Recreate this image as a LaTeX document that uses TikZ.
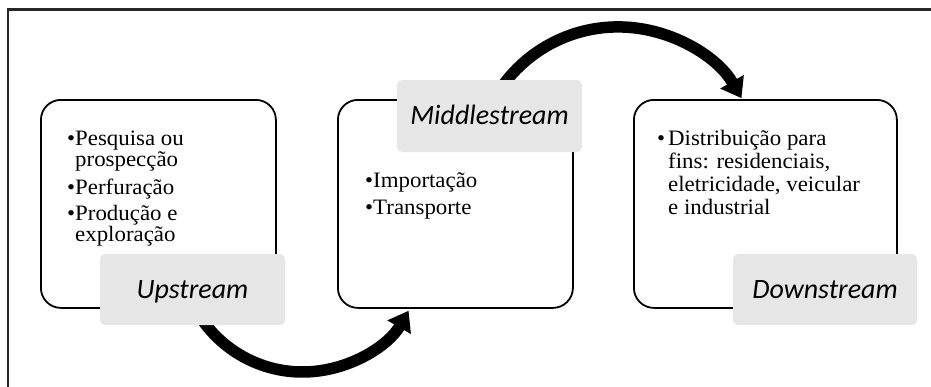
\documentclass[tikz,border=0pt]{standalone}
\usepackage{fontspec}
\setmainfont[FakeStretch=1.04]{Liberation Serif}
\newfontfamily\lblfont{Carlito}
\usetikzlibrary{arrows.meta}
\definecolor{lblgray}{HTML}{E6E6E6}
\definecolor{framegray}{HTML}{262626}
\begin{document}
\begin{tikzpicture}[x=1pt,y=-1pt,
  stage/.style={draw=black, line width=1.8pt, rounded corners=20pt, anchor=north west, inner sep=0pt},
  lbl/.style={fill=lblgray, rounded corners=5pt, inner sep=0pt, font=\lblfont\itshape\fontsize{28}{32}\selectfont, text height=17pt, text depth=0pt, align=center},
  txtline/.style={anchor=base west, inner sep=0pt, font=\fontsize{22}{24}\selectfont},
  flow/.style={line width=11.5pt, -{Triangle[length=19pt,width=26pt]}},
  framestyle/.style={draw=framegray, line width=2.5pt}
]
\useasboundingbox (0,0) rectangle (931,386);
% frame
\coordinate (fb) at (8,390);
\coordinate (ftl) at (8,9.5);
\coordinate (fr) at (935,9.5);
\draw[framestyle] (fb) -- (ftl) -- (fr);

% stage boxes
\node[stage, minimum width=235pt, minimum height=208pt] (s1) at (40,99) {};
\node[stage, minimum width=235pt, minimum height=208pt] (s2) at (337,99) {};
\node[stage, minimum width=263pt, minimum height=208pt] (s3) at (633,99) {};

% curved arrows
\coordinate (c1) at (302.5,249.5);
\coordinate (c2) at (618,169.5);
\draw[flow] ([shift={(145:122.5)}]c1) arc[start angle=145, end angle=30, radius=122.5];
\draw[flow] ([shift={(-145:142.6)}]c2) arc[start angle=-145, end angle=-30, radius=142.6];

% labels
\node[lbl, minimum width=185pt, minimum height=71pt] (up) at (192.5,289.5) {Upstream};
\node[lbl, minimum width=185pt, minimum height=72pt] (mid) at (489.5,116) {Middlestream};
\node[lbl, minimum width=184pt, minimum height=71pt] (down) at (825,289.5) {Downstream};

% texts box 1
\node[txtline] (t1a) at (75,145.5) {\llap{•}Pesquisa ou};
\node[txtline] (t1b) at (75,166.5) {prospecção};
\node[txtline] (t1c) at (75,194) {\llap{•}Perfuração};
\node[txtline] (t1d) at (75,220) {\llap{•}Produção e};
\node[txtline] (t1e) at (75,241) {exploração};
% texts box 2
\node[txtline] (t2a) at (373,187.5) {\llap{•}Importação};
\node[txtline] (t2b) at (373,214) {\llap{•}Transporte};
% texts box 3
\node[txtline] (t3a) at (668,145) {\llap{•\hspace{3pt}}Distribuição para};
\node[txtline] (t3b) at (668,168) {fins: residenciais,};
\node[txtline] (t3c) at (668,191) {eletricidade, veicular};
\node[txtline] (t3d) at (668,214) {e industrial};
\end{tikzpicture}
\end{document}
